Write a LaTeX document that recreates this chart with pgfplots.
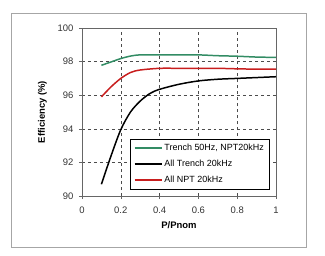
\documentclass[border=0pt]{standalone}
\usepackage{pgfplots}
\pgfplotsset{compat=1.18}
\usepackage{fontspec}
\setmainfont{Liberation Sans}
\definecolor{cgreen}{RGB}{50,140,100}
\definecolor{cred}{RGB}{200,30,30}
\begin{document}
\begin{tikzpicture}[x=1bp,y=1bp]
\path[use as bounding box] (-82,-60) rectangle (243,196);
\draw[gray!70, line width=0.8bp] (-71,-51) rectangle (224,183);
\begin{axis}[
  at={(0,0)}, anchor=south west,
  scale only axis, width=194bp, height=168bp,
  xmin=0, xmax=1, ymin=90, ymax=100,
  xtick={0,0.2,...,1}, ytick={90,92,...,100},
  xticklabels={0,0.2,0.4,0.6,0.8,1},
  grid=major,
  major grid style={black!70, dashed, line width=0.4pt},
  axis line style={gray!80!black, line width=0.7pt},
  tick style={gray!80!black, line width=0.6pt},
  tick align=outside, major tick length=3bp,
  xtick pos=bottom, ytick pos=left,
  /pgf/number format/assume math mode=true,
  ticklabel style={font=\fontsize{9.5}{11}\selectfont, text=black!80},
  xticklabel style={yshift=-4bp},
  yticklabel style={xshift=-2bp},
  xlabel={\textbf{P/Pnom}}, ylabel={\textbf{Efficiency (\%)}},
  label style={font=\fontsize{9.5}{11}\selectfont},
  xlabel style={yshift=-2bp},
  ylabel style={yshift=4bp},
  legend style={at={(0.964,0.339)}, anchor=north east, draw=black, line width=0.5pt,
    font=\fontsize{9}{10}\selectfont, row sep=4pt, inner sep=3pt},
  legend cell align=left,
  legend image code/.code={\draw[#1, line width=1.8pt] (0bp,0bp) -- (27bp,0bp);},
]
\addplot[cgreen, line width=1.5pt, smooth] coordinates {
(0.1,97.78) (0.15,97.98) (0.2,98.18) (0.25,98.33) (0.3,98.4) (0.4,98.4) (0.5,98.4) (0.6,98.4) (0.7,98.35) (0.8,98.32) (0.9,98.27) (1.0,98.25)};
\addlegendentry{Trench 50Hz, NPT20kHz}
\addplot[black, line width=1.5pt, smooth] coordinates {
(0.1,90.7) (0.15,92.4) (0.2,93.95) (0.25,95.0) (0.3,95.65) (0.35,96.1) (0.4,96.35) (0.5,96.65) (0.6,96.85) (0.7,96.95) (0.8,97.0) (0.9,97.05) (1.0,97.1)};
\addlegendentry{All Trench 20kHz}
\addplot[cred, line width=1.5pt, smooth] coordinates {
(0.1,95.9) (0.15,96.5) (0.2,97.0) (0.25,97.35) (0.3,97.5) (0.4,97.6) (0.5,97.6) (0.6,97.6) (0.7,97.6) (0.8,97.57) (0.9,97.55) (1.0,97.55)};
\addlegendentry{All NPT 20kHz}
\end{axis}
\end{tikzpicture}
\end{document}
